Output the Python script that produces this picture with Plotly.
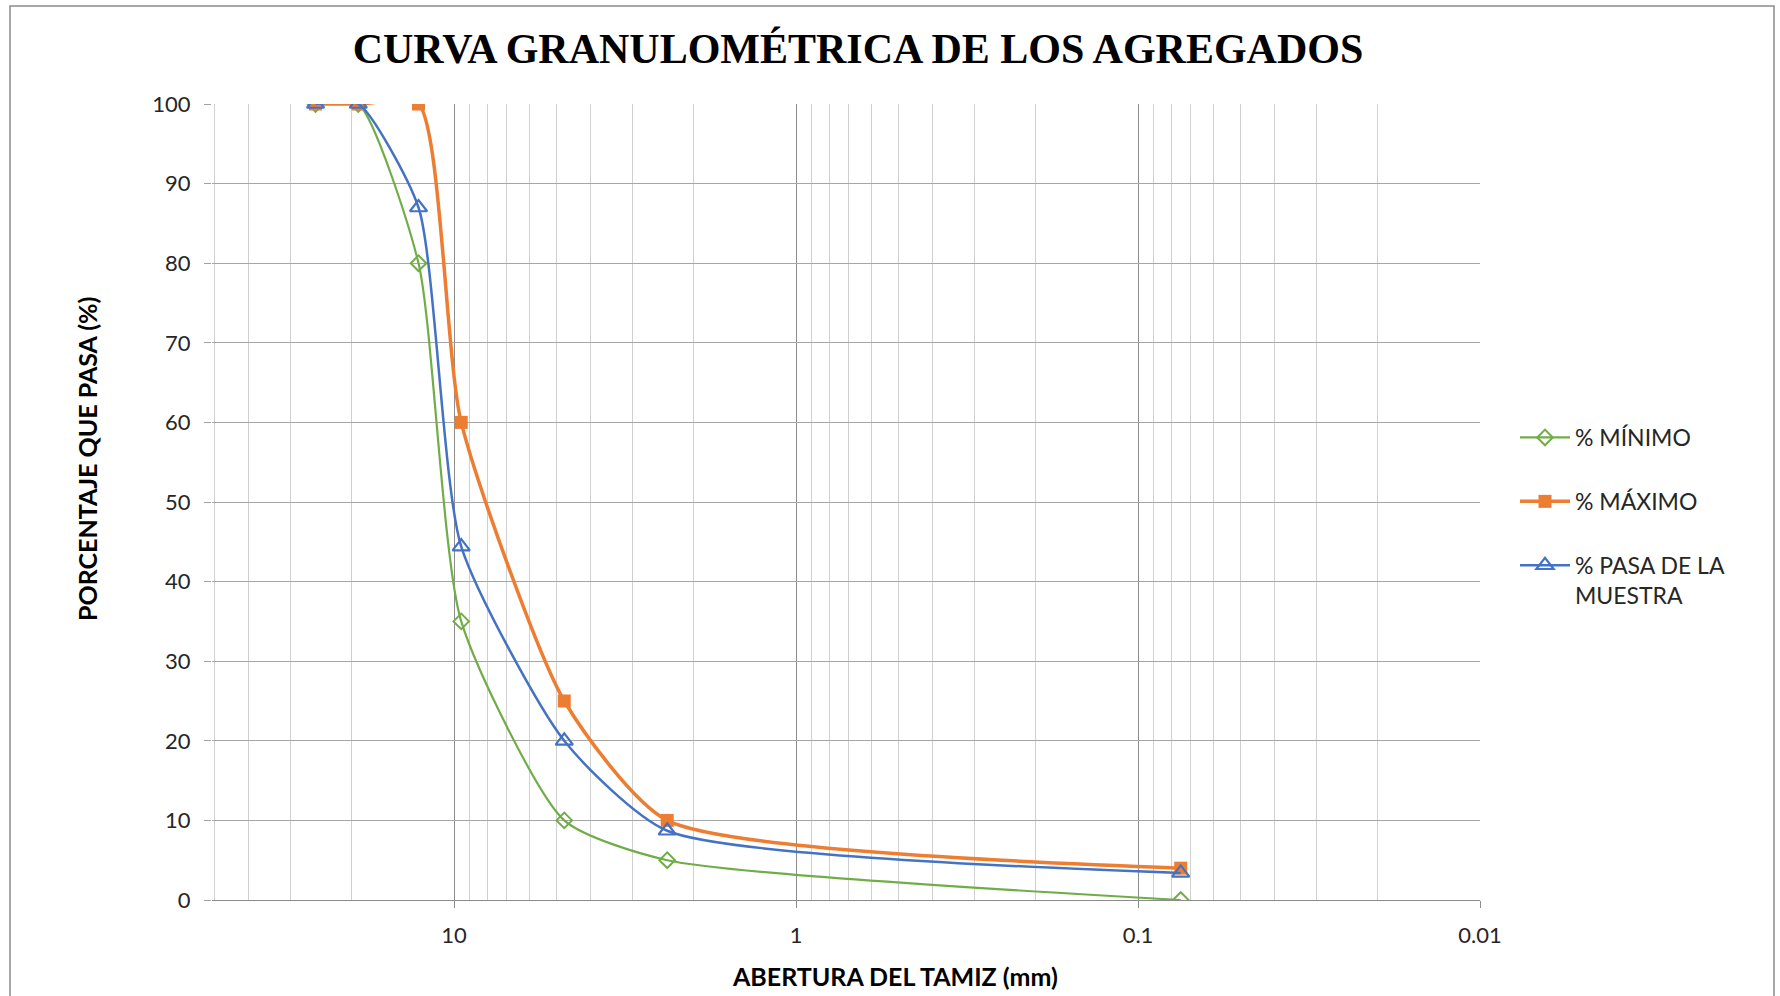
import plotly.graph_objects as go

# ---- data ----
abertura_mm = [25.4, 19.05, 12.7, 9.525, 4.76, 2.38, 0.075]
pct_minimo = [100, 100, 80, 35, 10, 5, 0]
pct_maximo = [100, 100, 100, 60, 25, 10, 4]
pct_muestra = [100, 100, 87, 44.4, 20, 8.7, 3.4]

series_names = ["% MÍNIMO", "% MÁXIMO", "% PASA DE LA<br>MUESTRA"]
x_major_ticks = [10, 1, 0.1, 0.01]
x_major_labels = ["10", "1", "0.1", "0.01"]
x_minor_ticks = [50, 40, 30, 20,
                 9, 8, 7, 6, 5, 4, 3, 2,
                 0.9, 0.8, 0.7, 0.6, 0.5, 0.4, 0.3, 0.2,
                 0.09, 0.08, 0.07, 0.06, 0.05, 0.04, 0.03, 0.02]
y_ticks = list(range(0, 101, 10))

GREEN = "#70AD47"
ORANGE = "#ED7D31"
BLUE = "#4472C4"

W, H = 1780, 996
L, R, T, B = 212, 1480, 104, 900


def px_x(p):
    return (p - L) / (R - L)


def px_y(p):
    return (B - p) / (B - T)


SM = 0.6

fig = go.Figure()
fig.add_trace(go.Scatter(
    x=abertura_mm, y=pct_minimo, name=series_names[0], legendgroup="a",
    mode="lines+markers", line=dict(color=GREEN, width=2.2, shape="spline", smoothing=SM),
    marker=dict(symbol="diamond-open", size=12, color=GREEN, line=dict(width=2, color=GREEN))))
fig.add_trace(go.Scatter(
    x=abertura_mm, y=pct_maximo, name=series_names[1], legendgroup="b",
    mode="lines+markers", line=dict(color=ORANGE, width=3.5, shape="spline", smoothing=SM),
    marker=dict(symbol="square", size=13, color=ORANGE)))
fig.add_trace(go.Scatter(
    x=abertura_mm, y=pct_muestra, name=series_names[2], legendgroup="c",
    mode="lines+markers", line=dict(color=BLUE, width=2.5, shape="spline", smoothing=SM),
    marker=dict(symbol="triangle-up-open", size=15, color=BLUE, line=dict(width=2.2, color=BLUE))))

fig.update_layout(
    width=W, height=H,
    margin=dict(l=L, r=W - R, t=T, b=H - B, autoexpand=False),
    paper_bgcolor="white", plot_bgcolor="white",
    font=dict(family="Lato, 'Open Sans', sans-serif", color="#262626"),
    title=dict(text="<b>CURVA GRANULOMÉTRICA DE LOS AGREGADOS</b>",
               font=dict(family="'Liberation Serif', 'Times New Roman', serif", size=42, color="#000000"),
               x=858 / W, xanchor="center", y=1 - 48 / H, yanchor="middle"),
    showlegend=True,
    legend=dict(x=px_x(1515), y=px_y(416), xanchor="left", yanchor="top",
                font=dict(size=23, color="#262626"), tracegroupgap=31,
                itemwidth=50, valign="top", bgcolor="rgba(0,0,0,0)"),
)

fig.update_xaxes(
    type="log", autorange=False, range=[1.7076, -2],
    tickmode="array", tickvals=x_major_ticks, ticktext=x_major_labels,
    ticks="outside", ticklen=7, tickcolor="#8c8c8c", tickwidth=1,
    tickfont=dict(size=22, color="#262626"), ticklabelstandoff=9,
    showgrid=True, gridcolor="#8c8c8c", gridwidth=1,
    minor=dict(tickmode="array", tickvals=x_minor_ticks, showgrid=True,
               gridcolor="#d0d0d0", gridwidth=1, ticks=""),
    showline=True, linecolor="#8c8c8c", linewidth=1, mirror=False,
    zeroline=False,
)
fig.update_yaxes(
    range=[0, 100], tickmode="array", tickvals=y_ticks,
    ticks="outside", ticklen=7, tickcolor="#a0a0a0",
    tickfont=dict(size=22, color="#262626"), ticklabelstandoff=9,
    showgrid=True, gridcolor="#a6a6a6", gridwidth=1,
    showline=False, zeroline=False,
)

fig.add_annotation(text="<b>PORCENTAJE QUE PASA (%)</b>", xref="paper", yref="paper",
                   x=px_x(87), y=px_y(459), textangle=-90, showarrow=False,
                   font=dict(size=25, color="#000000"), xanchor="center", yanchor="middle")
fig.add_annotation(text="<b>ABERTURA DEL TAMIZ (mm)</b>", xref="paper", yref="paper",
                   x=px_x(895), y=px_y(976), showarrow=False,
                   font=dict(size=25, color="#000000"), xanchor="center", yanchor="middle")

fig.add_shape(type="rect", xref="paper", yref="paper",
              x0=px_x(10), x1=px_x(1774), y0=px_y(1010), y1=px_y(6),
              line=dict(color="#8c8c8c", width=1.5), fillcolor="rgba(0,0,0,0)", layer="below")

fig.write_html(
    "out.html",
    config={"displayModeBar": False},
    post_script="document.body.style.margin='0';document.body.style.overflow='hidden';",
)
